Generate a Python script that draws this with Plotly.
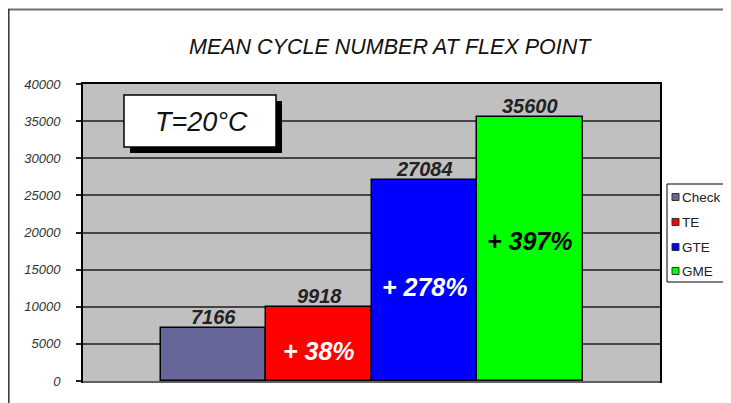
import plotly.graph_objects as go

categories = ["Check", "TE", "GTE", "GME"]
values = [7166, 9918, 27084, 35600]
colors = ["#666699", "#FF0000", "#0000FF", "#00FF00"]
pct_labels = ["", "+ 38%", "+ 278%", "+ 397%"]
pct_y = [0, 4040, 12660, 18855]
pct_colors = ["white", "white", "white", "black"]
y_ticks = list(range(0, 40001, 5000))
title_text = "MEAN CYCLE NUMBER AT FLEX POINT"
temp_text = "T=20°C"

# page is drawn with an 8px body margin, so work in window pixels and offset
OFF = 8
WIN_W, WIN_H = 731, 403
W, H = WIN_W - OFF, WIN_H - OFF
plot_l, plot_r, plot_t, plot_b = 83, 660, 84, 381
ml = plot_l - OFF
mt = plot_t - OFF
mr = WIN_W - plot_r
mb = WIN_H - plot_b
pw = W - ml - mr
ph = H - mt - mb


def px(x):
    return (x - OFF - ml) / pw


def py(y):
    return 1 - (y - OFF - mt) / ph


FONT = "Liberation Sans, Arial, sans-serif"

fig = go.Figure()
for c, v, col in zip(categories, values, colors):
    fig.add_trace(go.Bar(
        x=[c], y=[v], name=c,
        marker=dict(color=col, line=dict(color="black", width=1.5)),
        showlegend=False,
    ))

annotations = []
for c, v in zip(categories, values):
    annotations.append(dict(
        x=c, y=v, xref="x", yref="y", text=str(v), showarrow=False,
        yanchor="bottom", yshift=-2,
        font=dict(family=FONT, size=20, color="#222222", style="italic", weight="bold"),
    ))
for c, t, yv, tc in zip(categories, pct_labels, pct_y, pct_colors):
    if t:
        annotations.append(dict(
            x=c, y=yv, xref="x", yref="y", text=t, showarrow=False,
            font=dict(family=FONT, size=25, color=tc, style="italic", weight="bold"),
        ))

# title
annotations.append(dict(
    x=px(390), y=py(47), xref="paper", yref="paper", text=title_text, showarrow=False,
    xanchor="center", yanchor="middle",
    font=dict(family=FONT, size=21.5, color="#111111", style="italic"),
))
# temperature box text
annotations.append(dict(
    x=px(201), y=py(122), xref="paper", yref="paper", text=temp_text, showarrow=False,
    xanchor="center", yanchor="middle",
    font=dict(family=FONT, size=27, color="#111111", style="italic"),
))

shapes = []
# outer frame
shapes.append(dict(type="line", xref="paper", yref="paper", x0=px(8), x1=px(740), y0=py(9.5), y1=py(9.5),
                   line=dict(color="#707070", width=2)))
shapes.append(dict(type="line", xref="paper", yref="paper", x0=px(8.8), x1=px(8.8), y0=py(9), y1=py(410),
                   line=dict(color="#333333", width=1.5)))
# temperature box with shadow
shapes.append(dict(type="rect", xref="paper", yref="paper", x0=px(130), x1=px(282), y0=py(101), y1=py(153),
                   fillcolor="black", line=dict(width=0), layer="above"))
shapes.append(dict(type="rect", xref="paper", yref="paper", x0=px(124), x1=px(276), y0=py(95), y1=py(147),
                   fillcolor="white", line=dict(color="black", width=1.5), layer="above"))
# legend box
shapes.append(dict(type="rect", xref="paper", yref="paper", x0=px(667), x1=px(745), y0=py(184), y1=py(282),
                   fillcolor="white", line=dict(color="black", width=1)))
leg_y = [197, 222, 247, 271]
for c, col, ly in zip(categories, colors, leg_y):
    shapes.append(dict(type="rect", xref="paper", yref="paper", x0=px(672), x1=px(679), y0=py(ly - 3.5), y1=py(ly + 3.5),
                       fillcolor=col, line=dict(color="#333333", width=1)))
    annotations.append(dict(
        x=px(680), y=py(ly), xref="paper", yref="paper", text=c, showarrow=False,
        xanchor="left", yanchor="middle",
        font=dict(family=FONT, size=13.5, color="#222222"),
    ))
# lighter bottom edge of plot area
shapes.append(dict(type="line", xref="paper", yref="paper", x0=px(83), x1=px(660), y0=py(382), y1=py(382),
                   line=dict(color="#808080", width=1.5)))

fig.update_layout(
    width=W, height=H,
    margin=dict(l=ml, r=mr, t=mt, b=mb, pad=0),
    paper_bgcolor="white", plot_bgcolor="#C0C0C0",
    barmode="overlay", bargap=0,
    showlegend=False,
    annotations=annotations, shapes=shapes,
)
fig.update_xaxes(
    type="category", categoryorder="array", categoryarray=categories,
    range=[-1.239, 4.23], showticklabels=False, ticks="", showgrid=False,
    showline=True, linecolor="black", linewidth=2, mirror=True, zeroline=False,
)
fig.update_yaxes(
    range=[0, 40000], tickvals=y_ticks, ticktext=[str(t) for t in y_ticks],
    ticks="outside", ticklen=5, tickcolor="#222222", tickwidth=1.5,
    ticklabelstandoff=13,
    tickfont=dict(family=FONT, size=13, color="#333333", style="italic"),
    showgrid=True, gridcolor="#454545", gridwidth=1.5,
    showline=True, linecolor="black", linewidth=2, mirror=True, zeroline=False,
)

fig.write_html("out.html")
